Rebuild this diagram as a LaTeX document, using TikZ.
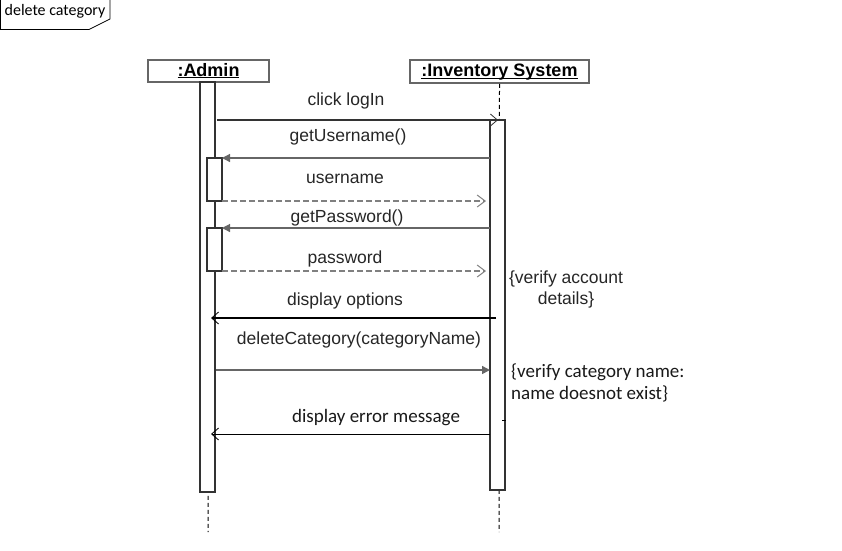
\documentclass[tikz,border=0pt]{standalone}
\usepackage{fontspec}
\setmainfont{Liberation Sans}
\newfontfamily\calfont{Carlito}
\usetikzlibrary{arrows.meta}
\definecolor{lnA}{HTML}{333333}
\definecolor{lnB}{HTML}{666666}
\definecolor{lnC}{HTML}{808080}
\newcommand\myul[1]{\setbox0\hbox{#1}\rlap{\rule[-2.4pt]{\wd0}{1.3pt}}\box0}
\tikzset{
  hdr/.style={draw=lnB,line width=1.6pt,inner sep=0pt,text height=13pt,text depth=3pt,font=\fontsize{18}{20}\selectfont\bfseries},
  act/.style={draw=lnA,line width=1.5pt,fill=white,inner sep=0pt},
  life/.style={line width=1pt,dash pattern=on 4pt off 3pt,draw=black},
  lbl/.style={font=\fontsize{17.5}{21}\selectfont,text=black!85,inner sep=0pt},
  clbl/.style={font=\calfont\fontsize{19}{22}\selectfont,text=black!90,inner sep=0pt},
  synch/.style={line width=1.2pt,-{Triangle[length=8pt,width=8pt]}},
  openarr/.style={-{Straight Barb[length=7pt,width=12pt,line width=0.8pt]}},
  reply/.style={dashed,dash pattern=on 6pt off 3pt,line width=1.1pt,draw=lnC,-{Straight Barb[length=8pt,width=12pt,line width=1pt]}}
}
\begin{document}
\begin{tikzpicture}[x=1pt,y=-1pt]
\useasboundingbox (0,0) rectangle (842,550);
% frame label
\draw[line width=0.8pt] (0.5,0) -- (0.5,29.5) -- (89,29.5) -- (110,19) -- (110,0);
\node[font=\calfont\fontsize{16}{18}\selectfont,inner sep=0pt] (flbl) at (55,11) {delete category};
% headers
\node[hdr,minimum width=121pt,minimum height=22pt] (admin) at (208.5,71) {\myul{:Admin}};
\node[hdr,minimum width=179pt,minimum height=23pt] (inv) at (499.5,71.5) {\myul{:Inventory System}};
% lifelines
\coordinate (aEnd) at (208,532);
\coordinate (iEnd) at (499,532);
\draw[life] (admin.south) -- (aEnd);
\draw[life] (inv.south) -- (iEnd);
% activations
\node[act,minimum width=15pt,minimum height=410pt] (actA) at (207.5,287) {};
\node[act,minimum width=15pt,minimum height=370pt] (actI) at (497.5,305) {};
\node[act,minimum width=15pt,minimum height=43pt] (actA1) at (214.5,179.5) {};
\node[act,minimum width=15pt,minimum height=43pt] (actA2) at (214.5,249.5) {};
% message endpoints
\coordinate (m1a) at (217,120);  \coordinate (m1b) at (498,120);
\coordinate (m2a) at (490,158);  \coordinate (m2b) at (222,158);
\coordinate (m3a) at (222,201);  \coordinate (m3b) at (486,201);
\coordinate (m4a) at (490,228);  \coordinate (m4b) at (222,228);
\coordinate (m5a) at (222,271);  \coordinate (m5b) at (486,271);
\coordinate (m6a) at (496,318);  \coordinate (m6b) at (211,318);
\coordinate (m7a) at (216,370);  \coordinate (m7b) at (490,370);
\coordinate (m8a) at (490,434);  \coordinate (m8b) at (211,434);
\coordinate (tk1) at (502,420);  \coordinate (tk2) at (506,420);
% messages
\draw[openarr,line width=1.5pt,draw=lnA] (m1a) -- (m1b);
\draw[synch,draw=lnB] (m2a) -- (m2b);
\draw[reply] (m3a) -- (m3b);
\draw[synch,draw=lnB] (m4a) -- (m4b);
\draw[reply] (m5a) -- (m5b);
\draw[openarr,line width=1.4pt,draw=black] (m6a) -- (m6b);
\draw[synch,draw=lnB,line width=1.5pt] (m7a) -- (m7b);
\draw[openarr,line width=0.9pt,draw=black] (m8a) -- (m8b);
\draw[line width=1pt] (tk1) -- (tk2);
% labels
\node[lbl] (l1) at (346,101) {click logIn};
\node[lbl] (l2) at (348,137) {getUsername()};
\node[lbl] (l3) at (345,179) {username};
\node[lbl] (l4) at (347,218) {getPassword()};
\node[lbl] (l5) at (345,259) {password};
\node[lbl] (l6) at (345,301) {display options};
\node[lbl] (l7) at (359,340) {deleteCategory(categoryName)};
\node[clbl] (l8) at (376,418) {display error message};
% notes
\node[lbl,align=center] (n1) at (566,289.5) {\{verify account\\details\}};
\node[clbl,align=left,anchor=west] (n2) at (511,383) {\{verify category name:\\name doesnot exist\}};
\end{tikzpicture}
\end{document}
